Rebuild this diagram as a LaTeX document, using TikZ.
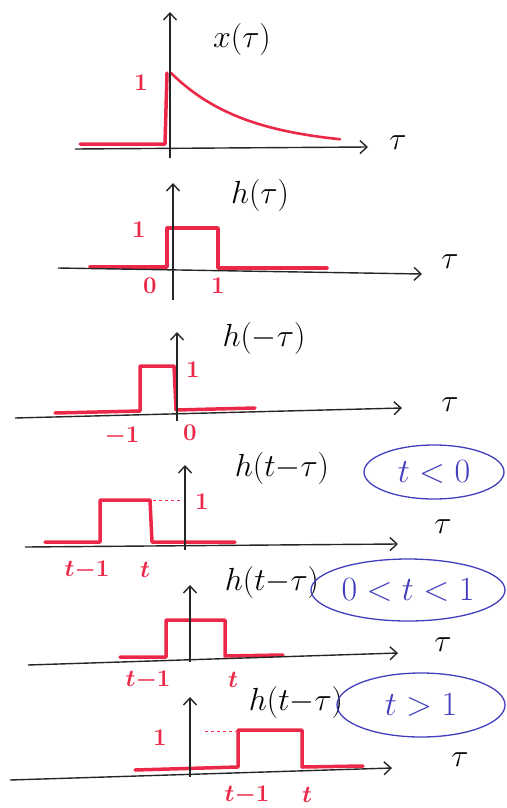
\documentclass[tikz,border=0pt]{standalone}
\usepackage{fix-cm}
\usetikzlibrary{arrows.meta,shapes.geometric}
\definecolor{sigred}{RGB}{236,40,72}
\definecolor{condblue}{RGB}{66,62,190}
\begin{document}
\begin{tikzpicture}[x=1pt,y=-1pt,
  axis/.style={line width=1.4pt, draw=black!85},
  axisarrow/.style={axis, -{Straight Barb[length=7pt,width=13pt,line width=1.4pt]}},
  sig/.style={line width=3.5pt, draw=sigred, line join=round, line cap=round},
  guide/.style={line width=0.9pt, draw=sigred, dashed},
  lbl/.style={font=\fontsize{32}{34}\selectfont, inner sep=0pt},
  rlbl/.style={font=\fontsize{24}{26}\selectfont\bfseries\boldmath, inner sep=0pt, text=sigred},
  cond/.style={draw=condblue, line width=1.3pt, ellipse, text=condblue,
               font=\fontsize{34}{36}\selectfont, inner sep=0pt}]
\useasboundingbox (0,0) rectangle (506,808);

% ---------- panel 1: x(tau)
\coordinate (h1l) at (75,149); \coordinate (h1r) at (368,147);
\coordinate (v1b) at (170,158); \coordinate (v1t) at (170,12);
\draw[sig] (80,144) -- (165,144) -- (167,73);
\draw[sig, line width=2.6pt] plot[domain=171:340, samples=50] (\x, {147-74*exp(-(\x-171)/75)});
\draw[axisarrow] (h1l) -- (h1r);
\draw[axisarrow] (v1b) -- (v1t);
\node[lbl] (x1) at (242,40) {$x(\tau)$};
\node[lbl] (t1) at (398,143) {$\tau$};
\node[rlbl] (o1) at (141,83) {1};

% ---------- panel 2: h(tau)
\coordinate (h2l) at (58,268); \coordinate (h2r) at (422,274);
\coordinate (v2b) at (173,300); \coordinate (v2t) at (173,183);
\draw[sig] (90,267) -- (167,267) -- (167,228) -- (218,228) -- (218,268) -- (327,268);
\draw[axisarrow] (h2l) -- (h2r);
\draw[axisarrow] (v2b) -- (v2t);
\node[lbl] (x2) at (260,195) {$h(\tau)$};
\node[lbl] (t2) at (450,262) {$\tau$};
\node[rlbl] (o2) at (139,230) {1};
\node[rlbl] (z2) at (150,286) {0};
\node[rlbl] (u2) at (218,286) {1};

% ---------- panel 3: h(-tau)
\coordinate (h3l) at (15,418); \coordinate (h3r) at (402,408);
\coordinate (v3b) at (177,421); \coordinate (v3t) at (177,332);
\draw[sig] (55,413) -- (140,411) -- (140,366) -- (174,366) -- (176,410) -- (255,408);
\draw[axisarrow] (h3l) -- (h3r);
\draw[axisarrow] (v3b) -- (v3t);
\node[lbl] (x3) at (264,338) {$h(-\tau)$};
\node[lbl] (t3) at (450,405) {$\tau$};
\node[rlbl] (o3) at (193,370) {1};
\node[rlbl] (m3) at (122,436) {$-1$};
\node[rlbl] (z3) at (190,433) {0};

% ---------- panel 4: h(t-tau), t<0
\coordinate (h4l) at (25,547); \coordinate (h4r) at (398,544);
\coordinate (v4b) at (185,550); \coordinate (v4t) at (185,465);
\draw[sig] (45,542) -- (100,542) -- (100,500) -- (150,500) -- (152,542) -- (235,542);
\draw[guide] (153,500) -- (183,500);
\draw[axisarrow] (h4l) -- (h4r);
\draw[axisarrow] (v4b) -- (v4t);
\node[lbl] (x4) at (282,468) {$h(t{-}\tau)$};
\node[lbl] (t4) at (443,527) {$\tau$};
\node[rlbl] (o4) at (202,502) {1};
\node[rlbl] (a4) at (87,570) {$t{-}1$};
\node[rlbl] (b4) at (145,570) {$t$};
\node[cond, minimum width=140, minimum height=54] (c4) at (434,472) {$t<0$};

% ---------- panel 5: h(t-tau), 0<t<1
\coordinate (h5l) at (28,665); \coordinate (h5r) at (398,653);
\coordinate (v5b) at (190,662); \coordinate (v5t) at (190,585);
\draw[sig] (120,657) -- (166,657) -- (166,620) -- (225,620) -- (225,656) -- (283,655);
\draw[axisarrow] (h5l) -- (h5r);
\draw[axisarrow] (v5b) -- (v5t);
\node[lbl] (x5) at (272,582) {$h(t{-}\tau)$};
\node[lbl] (t5) at (443,645) {$\tau$};
\node[rlbl] (a5) at (148,680) {$t{-}1$};
\node[rlbl] (b5) at (233,680) {$t$};
\node[cond, inner xsep=-12pt, minimum width=194, minimum height=62] (c5) at (408,590) {$0<t<1$};

% ---------- panel 6: h(t-tau), t>1
\coordinate (h6l) at (10,780); \coordinate (h6r) at (392,768);
\coordinate (v6b) at (190,777); \coordinate (v6t) at (190,697);
\draw[sig] (135,770) -- (238,767) -- (238,730) -- (302,730) -- (302,767) -- (363,766);
\draw[guide] (205,731) -- (236,731);
\draw[axisarrow] (h6l) -- (h6r);
\draw[axisarrow] (v6b) -- (v6t);
\node[lbl] (x6) at (296,702) {$h(t{-}\tau)$};
\node[lbl] (t6) at (460,760) {$\tau$};
\node[rlbl] (o6) at (160,738) {1};
\node[rlbl] (a6) at (247,795) {$t{-}1$};
\node[rlbl] (b6) at (307,795) {$t$};
\node[cond, minimum width=168, minimum height=64] (c6) at (421,705) {$t>1$};
\end{tikzpicture}
\end{document}
